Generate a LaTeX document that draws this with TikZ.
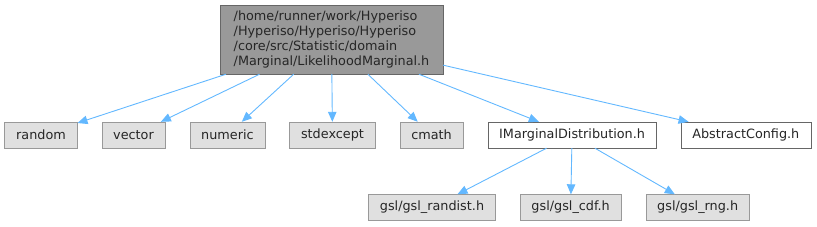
\documentclass[tikz,border=0pt]{standalone}
\usepackage{fontspec}
\setmainfont{DejaVu Sans}
\usepackage{xcolor}
\usepackage{tikz}
\usetikzlibrary{arrows.meta,positioning}
\definecolor{edgeblue}{HTML}{63B8FF}
\definecolor{sysfill}{HTML}{E0E0E0}
\definecolor{sysline}{HTML}{999999}
\definecolor{mainfill}{HTML}{999999}
\definecolor{mainline}{HTML}{666666}

\begin{document}
\begin{tikzpicture}[
    x=1pt, y=-1pt,
    node distance=24pt,
    every node/.style={font=\fontsize{12.8}{15.3}\selectfont, text=black!85},
    sysbox/.style={draw=sysline, fill=sysfill, minimum height=26pt, inner xsep=11.5pt, inner ysep=0pt},
    localbox/.style={sysbox, draw=mainline, fill=white},
    mainbox/.style={draw=mainline, fill=mainfill, align=left, minimum width=223pt, minimum height=69pt, inner xsep=11pt},
    arr/.style={-{Triangle[length=10pt,width=8.5pt]}, draw=edgeblue, line width=0.9pt}
]
\useasboundingbox (0,0) rectangle (817,227);
\node[mainbox] (main) at (331.5,39.5) {/home/runner/work/Hyperiso\\/Hyperiso/Hyperiso/Hyperiso\\/core/src/Statistic/domain\\/Marginal/LikelihoodMarginal.h};

% included headers
\node[sysbox] (random) at (41,135) {random};
\node[sysbox, right=of random] (vector) {vector};
\node[sysbox, right=of vector] (numeric) {numeric};
\node[sysbox, right=of numeric] (stdexcept) {stdexcept};
\node[sysbox, right=of stdexcept] (cmath) {cmath};
\node[localbox, right=of cmath] (imarg) {IMarginalDistribution.h};
\node[localbox, right=of imarg] (absconf) {AbstractConfig.h};

% gsl headers
\node[sysbox] (randist) at (432,207.5) {gsl/gsl\_randist.h};
\node[sysbox, right=of randist] (cdf) {gsl/gsl\_cdf.h};
\node[sysbox, right=of cdf] (rng) {gsl/gsl\_rng.h};

\draw[arr] (main) -- (random);
\draw[arr] (main) -- (vector);
\draw[arr] (main) -- (numeric);
\draw[arr] (main) -- (stdexcept);
\draw[arr] (main) -- (cmath);
\draw[arr] (main) -- (imarg);
\draw[arr] (main) -- (absconf);
\draw[arr] (imarg) -- (randist);
\draw[arr] (imarg) -- (cdf);
\draw[arr] (imarg) -- (rng);
\end{tikzpicture}
\end{document}
